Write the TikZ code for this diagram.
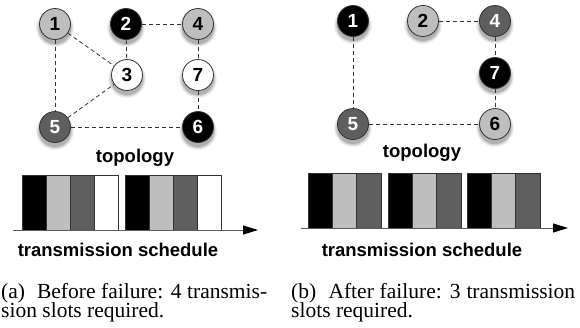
\documentclass[tikz,border=0pt]{standalone}
\usepackage{fontspec}
\setmainfont{Liberation Serif}
\newfontfamily\hv{Liberation Sans}
\usetikzlibrary{arrows.meta,backgrounds}
\definecolor{lg}{HTML}{BEBEBE}
\definecolor{dg}{HTML}{5E5E5E}
\definecolor{rim}{HTML}{333333}
\begin{document}
\begin{tikzpicture}[x=1pt,y=-1pt,
 nd/.style={circle, draw=rim, line width=0.8pt, minimum size=31pt, inner sep=0pt, font=\hv\bfseries\fontsize{19}{19}\selectfont},
 ndL/.style={nd, fill=lg, text=black},
 ndD/.style={nd, fill=dg, text=white},
 ndB/.style={nd, fill=black, text=white},
 ndW/.style={nd, fill=white, text=black},
 link/.style={draw=rim, line width=0.8pt, dash pattern=on 4pt off 3pt},
 lbl/.style={font=\hv\bfseries\fontsize{18.5}{20}\selectfont, anchor=base, inner sep=0pt},
 captext/.style={font=\fontsize{21.5}{24}\selectfont, anchor=base west, inner sep=0pt},
 slot/.style={draw=rim, line width=0.7pt},
 axisline/.style={draw=dg, line width=1pt, -{Triangle[length=15pt,width=9pt,color=black,fill=black]}}
]
\useasboundingbox (0,0) rectangle (580,327);

% ---- left topology
\node[ndL] (a1) at (55,24) {1};
\node[ndB] (a2) at (126,24) {2};
\node[ndL] (a4) at (198,24) {4};
\node[ndW] (a3) at (127,75) {3};
\node[ndW] (a7) at (198,75) {7};
\node[ndD] (a5) at (55,127) {5};
\node[ndB] (a6) at (198,127) {6};
\draw[link] (a1) -- (a5);
\draw[link] (a1) -- (a3);
\draw[link] (a2) -- (a3);
\draw[link] (a2) -- (a4);
\draw[link] (a4) -- (a7);
\draw[link] (a7) -- (a6);
\draw[link] (a5) -- (a3);
\draw[link] (a5) -- (a6);

% ---- right topology
\node[ndB] (b1) at (353,21) {1};
\node[ndL] (b2) at (423,21) {2};
\node[ndD] (b4) at (495,21) {4};
\node[ndB] (b7) at (495,73) {7};
\node[ndD] (b5) at (353,124) {5};
\node[ndL] (b6) at (495,124) {6};
\draw[link] (b1) -- (b5);
\draw[link] (b2) -- (b4);
\draw[link] (b4) -- (b7);
\draw[link] (b7) -- (b6);
\draw[link] (b5) -- (b6);

% ---- shadows
\begin{scope}[on background layer]
\foreach \n in {a1,a2,a3,a4,a5,a6,a7,b1,b2,b4,b5,b6,b7}{
  \foreach \r/\o in {19/0.05,18/0.07,17/0.1,16/0.13}{
    \fill[black,opacity=\o] ([yshift=-4pt]\n.center) circle (\r pt);
  }
}
\end{scope}

\node[lbl] (ta) at (135,162.5) {topology};
\node[lbl] (tb) at (422,157.5) {topology};

% ---- left schedule
\foreach \c [count=\i from 0] in {black,lg,dg,white}{
  \filldraw[slot, fill=\c] (22+24*\i,175) rectangle ++(24,55);
  \filldraw[slot, fill=\c] (125+24*\i,175) rectangle ++(24,55);
}
\coordinate (la0) at (13,230);
\coordinate (la1) at (258,230);
\draw[axisline] (la0) -- (la1);
\node[lbl] (sa) at (118,256) {transmission schedule};

% ---- right schedule
\foreach \g in {308,388,467}{
  \foreach \c [count=\i from 0] in {black,lg,dg}{
    \filldraw[slot, fill=\c] (\g+24.3*\i,173) rectangle ++(24.3,55);
  }
}
\coordinate (lb0) at (301,228);
\coordinate (lb1) at (568,228);
\draw[axisline] (lb0) -- (lb1);
\node[lbl] (sb) at (422,256.5) {transmission schedule};

% ---- captions
\node[captext] (ca1) at (1,298) {\makebox[266pt][s]{(a)\hspace{0.3em} Before failure: 4 transmis-}};
\node[captext] (ca2) at (1,317.5) {sion slots required.};
\node[captext] (cb1) at (291,298) {\makebox[284pt][s]{(b)\hspace{0.3em} After failure: 3 transmission}};
\node[captext] (cb2) at (291,317.5) {slots required.};
\end{tikzpicture}
\end{document}
